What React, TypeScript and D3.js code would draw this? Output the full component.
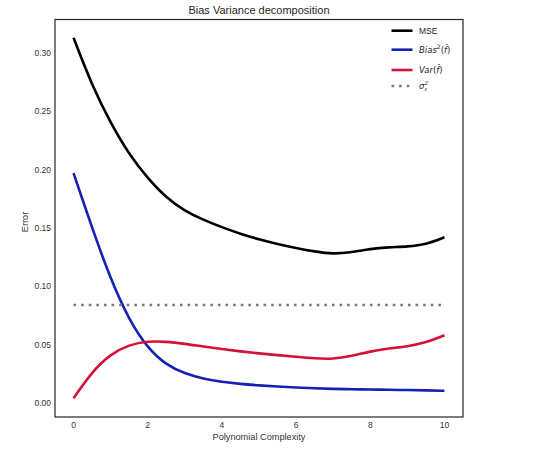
import * as d3 from 'd3';

const complexity = [0, 0.5, 1, 1.5, 2, 2.5, 3, 3.5, 4, 4.5, 5, 5.5, 6, 6.5, 7, 7.5, 8, 8.5, 9, 9.5, 10];
const mseValues = [0.313, 0.272, 0.24, 0.213, 0.1926, 0.176, 0.1645, 0.157, 0.1506, 0.145, 0.1402, 0.1362, 0.1328, 0.1298, 0.1276, 0.1292, 0.1322, 0.1335, 0.1341, 0.1358, 0.142];
const biasValues = [0.197, 0.15, 0.106, 0.071, 0.047, 0.0326, 0.0252, 0.0208, 0.018, 0.0163, 0.0151, 0.0141, 0.0133, 0.0126, 0.0121, 0.0118, 0.0116, 0.0113, 0.0111, 0.0108, 0.0105];
const varValues = [0.004, 0.027, 0.042, 0.05, 0.053, 0.0526, 0.0508, 0.0483, 0.0462, 0.0442, 0.0425, 0.041, 0.0396, 0.0382, 0.0376, 0.0403, 0.0443, 0.0468, 0.0484, 0.0517, 0.058];
const noiseValue = 0.084;
const xTicks = [0, 2, 4, 6, 8, 10];
const yTicks = [0, 0.05, 0.1, 0.15, 0.2, 0.25, 0.3];

const width = 540;
const height = 450;
const margin = { top: 19.5, right: 77, bottom: 33, left: 55 };
const font = '"Liberation Sans", Arial, sans-serif';
const mathFont = '"DejaVu Sans", sans-serif';

export default function App() {
    const x = d3.scaleLinear().domain([-0.5, 10.5]).range([margin.left, width - margin.right]);
    const y = d3.scaleLinear().domain([-0.012, 0.3287]).range([height - margin.bottom, margin.top]);

    const line = d3.line<number>()
        .x((_, i) => x(complexity[i]))
        .y(d => y(d))
        .curve(d3.curveBasis);

    const series = [
        { values: mseValues, color: '#000000' },
        { values: biasValues, color: '#1322b4' },
        { values: varValues, color: '#d2123a' },
    ];

    // legend rows
    const lx0 = 391.5, lx1 = 412.5, tx = 419;
    const rows = [30.7, 49.7, 70, 86];

    return (
        <svg width={width} height={height} style={{ position: 'absolute', left: 0, top: 0, background: '#fff' }}
            fontFamily={font}>
            <text x={(margin.left + width - margin.right) / 2} y={14} textAnchor="middle" fontSize={11} fill="#262626">
                Bias Variance decomposition
            </text>

            {/* curves */}
            {series.map((s, k) => (
                <path key={k} d={line(s.values) || ''} fill="none" stroke={s.color} strokeWidth={2.6}
                    strokeLinejoin="round" strokeLinecap="butt" />
            ))}
            <line x1={x(0)} x2={x(10)} y1={y(noiseValue)} y2={y(noiseValue)} stroke="#7a7a7a"
                strokeWidth={2.6} strokeDasharray="2.6,5" />

            {/* frame */}
            <rect x={margin.left} y={margin.top} width={width - margin.left - margin.right}
                height={height - margin.top - margin.bottom} fill="none" stroke="#262626" strokeWidth={1.2} />

            {/* ticks */}
            {xTicks.map(t => (
                <text key={t} x={x(t)} y={428} textAnchor="middle" fontSize={8.5} fill="#333">{t}</text>
            ))}
            {yTicks.map(t => (
                <text key={t} x={51} y={y(t) + 3} textAnchor="end" fontSize={8.5} fill="#333">{d3.format('.2f')(t)}</text>
            ))}
            <text x={259} y={440} textAnchor="middle" fontSize={9.2} fill="#333">Polynomial Complexity</text>
            <text transform="translate(28,222) rotate(-90)" textAnchor="middle" fontSize={9.2} fill="#333">Error</text>

            {/* legend */}
            <line x1={lx0} x2={lx1} y1={rows[0]} y2={rows[0]} stroke="#000" strokeWidth={2.6} />
            <line x1={lx0} x2={lx1} y1={rows[1]} y2={rows[1]} stroke="#1322b4" strokeWidth={2.6} />
            <line x1={lx0} x2={lx1} y1={rows[2]} y2={rows[2]} stroke="#d2123a" strokeWidth={2.6} />
            <line x1={lx0} x2={lx1} y1={rows[3]} y2={rows[3]} stroke="#7a7a7a" strokeWidth={2.6} strokeDasharray="2.6,5" />
            <g fontSize={8.5} fill="#262626">
                <text x={tx} y={rows[0] + 3}>MSE</text>
                <text x={tx} y={rows[1] + 3} fontFamily={mathFont}>
                    <tspan fontStyle="italic">Bias</tspan>
                    <tspan fontSize={6} dy={-3.5}>2</tspan>
                    <tspan dy={3.5}>(</tspan>
                    <tspan fontStyle="italic">f̂</tspan>
                    <tspan>)</tspan>
                </text>
                <text x={tx} y={rows[2] + 3} fontFamily={mathFont}>
                    <tspan fontStyle="italic">Var</tspan>
                    <tspan>(</tspan>
                    <tspan fontStyle="italic">f̂</tspan>
                    <tspan>)</tspan>
                </text>
                <text x={tx} y={rows[3] + 3} fontFamily={mathFont} fontStyle="italic">σ</text>
                <text x={tx + 5.5} y={rows[3] - 0.8} fontFamily={mathFont} fontSize={5.5} fontStyle="italic">2</text>
                <text x={tx + 5.5} y={rows[3] + 5} fontFamily={mathFont} fontSize={5.5} fontStyle="italic">ε</text>
            </g>
        </svg>
    );
}
